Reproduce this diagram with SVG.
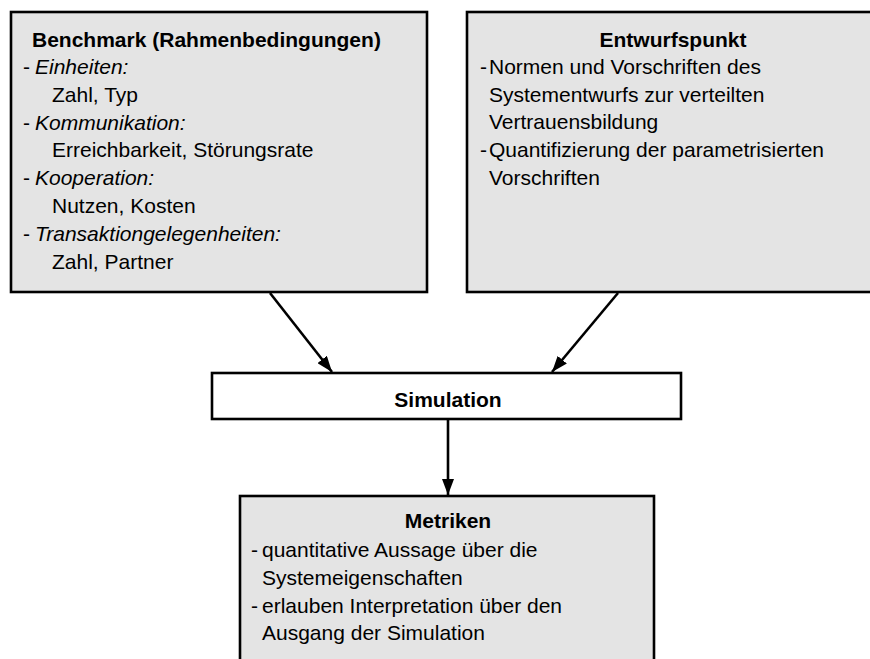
<svg xmlns="http://www.w3.org/2000/svg" width="870" height="659" viewBox="0 0 870 659">
  <style>
    .box { fill: #e4e4e4; stroke: #000; stroke-width: 2.6; }
    .plain { fill: #fff; stroke: #000; stroke-width: 2.6; }
    text { font-family: "Liberation Sans", Arial, sans-serif; font-size: 21px; fill: #000; }
    .title { font-weight: bold; }
    .it { font-style: italic; }
    .mid { text-anchor: middle; }
    .edge { stroke: #000; stroke-width: 2.6; fill: none; marker-end: url(#head); }
  </style>
  <defs>
    <marker id="head" viewBox="0 0 16 12" refX="16" refY="6" markerWidth="16" markerHeight="12" markerUnits="userSpaceOnUse" orient="auto">
      <path d="M0,0 L16,6 L0,12 Z" fill="#000"/>
    </marker>
  </defs>

  <rect width="870" height="659" fill="#fff"/>

  <g id="benchmark">
    <rect class="box" x="11" y="12" width="416" height="280"/>
    <text class="title" x="32" y="47">Benchmark (Rahmenbedingungen)</text>
    <text x="23" y="74">-</text><text class="it" x="35" y="74">Einheiten:</text>
    <text x="52" y="102">Zahl, Typ</text>
    <text x="23" y="130">-</text><text class="it" x="35" y="130">Kommunikation:</text>
    <text x="52" y="157">Erreichbarkeit, Störungsrate</text>
    <text x="23" y="185">-</text><text class="it" x="35" y="185">Kooperation:</text>
    <text x="52" y="213">Nutzen, Kosten</text>
    <text x="23" y="241">-</text><text class="it" x="35" y="241">Transaktiongelegenheiten:</text>
    <text x="52" y="269">Zahl, Partner</text>
  </g>

  <g id="entwurfspunkt">
    <rect class="box" x="467" y="12" width="420" height="280"/>
    <text class="title mid" x="673" y="47">Entwurfspunkt</text>
    <text x="480" y="74">-</text><text x="489" y="74">Normen und Vorschriften des</text>
    <text x="489" y="102">Systementwurfs zur verteilten</text>
    <text x="489" y="129">Vertrauensbildung</text>
    <text x="480" y="157">-</text><text x="489" y="157">Quantifizierung der parametrisierten</text>
    <text x="489" y="185">Vorschriften</text>
  </g>

  <g id="simulation">
    <rect class="plain" x="212" y="373" width="469" height="46"/>
    <text class="title mid" x="448" y="407">Simulation</text>
  </g>

  <g id="metriken">
    <rect class="box" x="240" y="496" width="414" height="180"/>
    <text class="title mid" x="448" y="528">Metriken</text>
    <text x="251" y="557">-</text><text x="262" y="557">quantitative Aussage über die</text>
    <text x="262" y="585">Systemeigenschaften</text>
    <text x="251" y="613">-</text><text x="262" y="613">erlauben Interpretation über den</text>
    <text x="262" y="640">Ausgang der Simulation</text>
  </g>

  <g id="connectors">
    <line class="edge" x1="270" y1="293" x2="332" y2="372"/>
    <line class="edge" x1="618" y1="293" x2="552" y2="372"/>
    <line class="edge" x1="448" y1="420" x2="448" y2="495"/>
  </g>
</svg>
